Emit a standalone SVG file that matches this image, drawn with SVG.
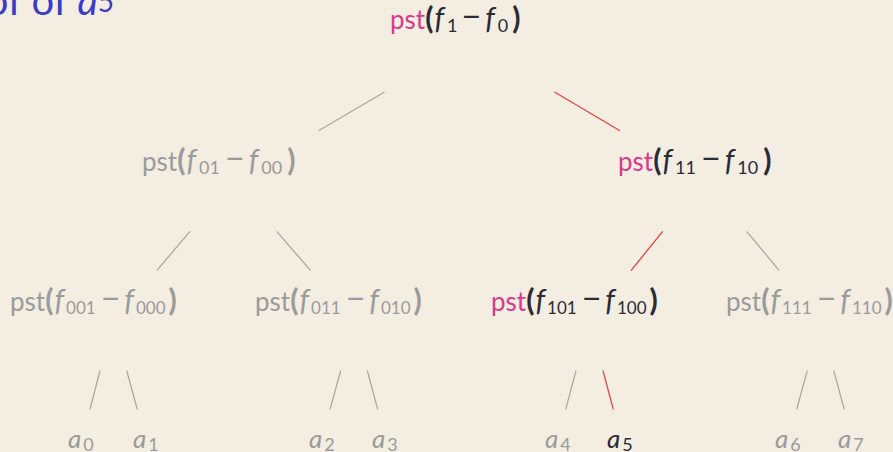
<svg xmlns="http://www.w3.org/2000/svg" width="893" height="452" viewBox="0 0 893 452">
<style>
text{font-family:Lato,"Noto Sans","DejaVu Sans",sans-serif;font-size:26px}
.g{fill:#9b9b9b}
.k{fill:#2b2b33}
.p{fill:#d93a8c}
.i{font-style:italic}
.f{font-style:italic;font-size:30px}
.s{font-size:18px}
.s3{font-size:17px}
.b{font-size:30px;font-weight:bold}
.m{font-size:34px}
.lg{stroke:#a9a9a3;stroke-width:1.3;fill:none}
.lr{stroke:#e2453f;stroke-width:1.3;fill:none}
.t{fill:#3b3bc4;font-size:40px}
</style>
<rect width="893" height="452" fill="#f3ede2"/>
<text class="t" x="-73" y="15">proof of <tspan class="i">a</tspan><tspan font-size="28" dy="-3">5</tspan></text>
<g id="connectors">
<line class="lg" x1="384.5" y1="92" x2="318.5" y2="130.7"/>
<line class="lr" x1="554.5" y1="92" x2="620" y2="130.7"/>
<line class="lg" x1="190" y1="231.3" x2="156.7" y2="270.7"/>
<line class="lg" x1="276.7" y1="231.3" x2="310.7" y2="270.7"/>
<line class="lr" x1="662.7" y1="231.3" x2="631" y2="270.7"/>
<line class="lg" x1="746.7" y1="231.3" x2="779.3" y2="270.7"/>
<line class="lg" x1="100" y1="370.7" x2="90" y2="409.3"/>
<line class="lg" x1="126.7" y1="370.7" x2="137.3" y2="409.3"/>
<line class="lg" x1="340.7" y1="370.7" x2="330" y2="409.3"/>
<line class="lg" x1="367.3" y1="370.7" x2="377.7" y2="409.3"/>
<line class="lg" x1="576" y1="370.7" x2="565.7" y2="409.3"/>
<line class="lr" x1="603" y1="370.7" x2="613.3" y2="409.3"/>
<line class="lg" x1="807.3" y1="370.7" x2="796.7" y2="409.3"/>
<line class="lg" x1="833.7" y1="370.7" x2="844.3" y2="409.3"/>
</g>
<g id="n-root"><text x="390" y="29"><tspan class="p">pst</tspan><tspan class="k b">(</tspan><tspan class="k f" dx="1">f</tspan><tspan class="k s" dy="3" dx="3">1</tspan><tspan class="k m" dy="-3" dx="4">−</tspan><tspan class="k f" dx="4">f</tspan><tspan class="k s" dy="3" dx="3">0</tspan><tspan class="k b" dy="-3" dx="4">)</tspan></text></g>
<g id="n-0"><text class="g" x="142" y="171">pst<tspan class="b">(</tspan><tspan class="f" dx="1">f</tspan><tspan class="s" dy="3" dx="3">01</tspan><tspan class="m" dy="-3" dx="5">−</tspan><tspan class="f" dx="4">f</tspan><tspan class="s" dy="3" dx="3">00</tspan><tspan class="b" dy="-3" dx="5">)</tspan></text></g>
<g id="n-1"><text x="618" y="171"><tspan class="p">pst</tspan><tspan class="k b">(</tspan><tspan class="k f" dx="1">f</tspan><tspan class="k s" dy="3" dx="3">11</tspan><tspan class="k m" dy="-3" dx="5">−</tspan><tspan class="k f" dx="4">f</tspan><tspan class="k s" dy="3" dx="3">10</tspan><tspan class="k b" dy="-3" dx="5">)</tspan></text></g>
<g id="n-00"><text class="g" x="10" y="311">pst<tspan class="b">(</tspan><tspan class="f" dx="1">f</tspan><tspan class="s3" dy="3" dx="2">001</tspan><tspan class="m" dy="-3" dx="5">−</tspan><tspan class="f" dx="4">f</tspan><tspan class="s3" dy="3" dx="2">000</tspan><tspan class="b" dy="-3" dx="3">)</tspan></text></g>
<g id="n-01"><text class="g" x="255" y="311">pst<tspan class="b">(</tspan><tspan class="f" dx="1">f</tspan><tspan class="s3" dy="3" dx="2">011</tspan><tspan class="m" dy="-3" dx="5">−</tspan><tspan class="f" dx="4">f</tspan><tspan class="s3" dy="3" dx="2">010</tspan><tspan class="b" dy="-3" dx="3">)</tspan></text></g>
<g id="n-10"><text x="491" y="311"><tspan class="p">pst</tspan><tspan class="k b">(</tspan><tspan class="k f" dx="1">f</tspan><tspan class="k s3" dy="3" dx="2">101</tspan><tspan class="k m" dy="-3" dx="5">−</tspan><tspan class="k f" dx="4">f</tspan><tspan class="k s3" dy="3" dx="2">100</tspan><tspan class="k b" dy="-3" dx="3">)</tspan></text></g>
<g id="n-11"><text class="g" x="726" y="311">pst<tspan class="b">(</tspan><tspan class="f" dx="1">f</tspan><tspan class="s3" dy="3" dx="2">111</tspan><tspan class="m" dy="-3" dx="5">−</tspan><tspan class="f" dx="4">f</tspan><tspan class="s3" dy="3" dx="2">110</tspan><tspan class="b" dy="-3" dx="3">)</tspan></text></g>
<g id="a0"><text class="g" x="68" y="448"><tspan class="i">a</tspan><tspan class="s" dy="3" dx="2">0</tspan></text></g>
<g id="a1"><text class="g" x="133" y="448"><tspan class="i">a</tspan><tspan class="s" dy="3" dx="2">1</tspan></text></g>
<g id="a2"><text class="g" x="309" y="448"><tspan class="i">a</tspan><tspan class="s" dy="3" dx="2">2</tspan></text></g>
<g id="a3"><text class="g" x="372" y="448"><tspan class="i">a</tspan><tspan class="s" dy="3" dx="2">3</tspan></text></g>
<g id="a4"><text class="g" x="545" y="448"><tspan class="i">a</tspan><tspan class="s" dy="3" dx="2">4</tspan></text></g>
<g id="a5"><text class="k" x="607" y="448"><tspan class="i">a</tspan><tspan class="s" dy="3" dx="2">5</tspan></text></g>
<g id="a6"><text class="g" x="775" y="448"><tspan class="i">a</tspan><tspan class="s" dy="3" dx="2">6</tspan></text></g>
<g id="a7"><text class="g" x="838" y="448"><tspan class="i">a</tspan><tspan class="s" dy="3" dx="2">7</tspan></text></g>
</svg>
